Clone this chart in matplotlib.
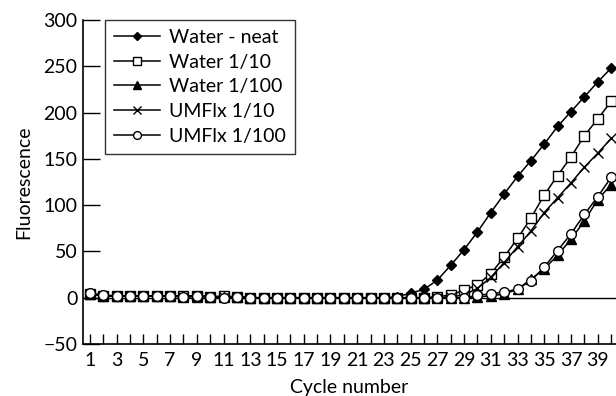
import matplotlib
matplotlib.use("Agg")
import matplotlib.pyplot as plt

cycles = list(range(1, 41))

water_neat = [4, 2, 2, 2, 2, 2, 2, 1, 2, 1, 1, 1, 0, 0, 0, 0, 0, 0, 0, 0,
              0, 0, 0, 1, 5, 9, 19, 35, 52, 71, 92, 112, 131, 148, 166, 185, 201, 217, 233, 248]
water_1_10 = [4, 2, 2, 2, 2, 2, 2, 2, 2, 1, 2, 1, 0, 0, 0, 0, 0, 0, 0, 0,
              0, 0, 0, 0, 0, 0, 1, 3, 8, 14, 26, 44, 64, 86, 111, 132, 152, 175, 193, 212]
water_1_100 = [4, 2, 2, 2, 2, 2, 2, 1, 1, 1, 1, 1, 0, 0, 0, 0, 0, 0, 0, 0,
               0, 0, 0, 0, 0, 0, 0, 0, 0, 1, 2, 4, 9, 20, 31, 46, 63, 83, 106, 122]
umflx_1_10 = [4, 2, 2, 2, 2, 2, 2, 1, 2, 1, 1, 1, 0, 0, 0, 0, 0, 0, 0, 0,
              0, 0, 0, 0, 0, 0, 0, 1, 3, 10, 22, 38, 55, 72, 92, 108, 124, 141, 156, 172]
umflx_1_100 = [5, 3, 2, 2, 2, 2, 2, 1, 2, 1, 0, 1, 0, 0, 0, 0, 0, 0, 0, 0,
               0, 0, 0, 0, 0, 0, 0, 0, 0, 2.5, 4.3, 6, 9.4, 18.4, 33, 51, 69, 90, 109, 130]

labels = ["Water - neat", "Water 1/10", "Water 1/100", "UMFlx 1/10", "UMFlx 1/100"]
xtick_labels = [str(c) if c % 2 == 1 else "" for c in cycles]
yticks = [-50, 0, 50, 100, 150, 200, 250, 300]

plt.rcParams['font.family'] = ['Lato', 'DejaVu Sans']
fig = plt.figure(figsize=(6.16, 3.96), dpi=100)
ax = fig.add_axes([83/616, 52/396, 1 - 83/616, 324/396])

FS = 14
lw = 1.1
ax.plot(cycles, water_neat, color='black', lw=lw, marker='D', ms=5.6,
        mfc='black', mec='black', label=labels[0])
ax.plot(cycles, water_1_10, color='black', lw=lw, marker='s', ms=6.5,
        mfc='white', mec='black', mew=1, label=labels[1])
ax.plot(cycles, water_1_100, color='black', lw=lw, marker='^', ms=7,
        mfc='black', mec='black', label=labels[2])
ax.plot(cycles, umflx_1_10, color='black', lw=lw, marker='x', ms=7,
        mfc='black', mec='black', mew=1, label=labels[3])
ax.plot(cycles, umflx_1_100, color='black', lw=lw, marker='o', ms=7,
        mfc='white', mec='black', mew=1, label=labels[4])

ax.axhline(0, color='black', lw=1, zorder=1)

ax.set_xlim(0.48, 40.37)
ax.set_ylim(-50, 300)
ax.set_xticks(cycles)
ax.set_xticklabels(xtick_labels)
ax.set_yticks(yticks)
ax.set_yticklabels(["\u221250" if v < 0 else str(v) for v in yticks])

for s in ['top', 'right']:
    ax.spines[s].set_visible(False)
for s in ['left', 'bottom']:
    ax.spines[s].set_linewidth(1.2)

ax.tick_params(axis='x', direction='in', length=7, width=1, labelsize=FS, pad=6)
ax.tick_params(axis='y', direction='in', length=12, width=1, labelsize=FS, pad=4)

ax.set_xlabel("Cycle number", fontsize=FS, labelpad=7)
ax.set_ylabel("Fluorescence", fontsize=FS, labelpad=8)

leg = ax.legend(loc='upper left', bbox_to_anchor=(0.041, 1.0), fontsize=FS,
                frameon=True, fancybox=False, edgecolor='black', borderaxespad=0,
                handlelength=2.4, handletextpad=0.45, labelspacing=0.4,
                borderpad=0.45, markerscale=0.8)
leg.get_frame().set_linewidth(1)

fig.savefig("out.png", dpi=100)
